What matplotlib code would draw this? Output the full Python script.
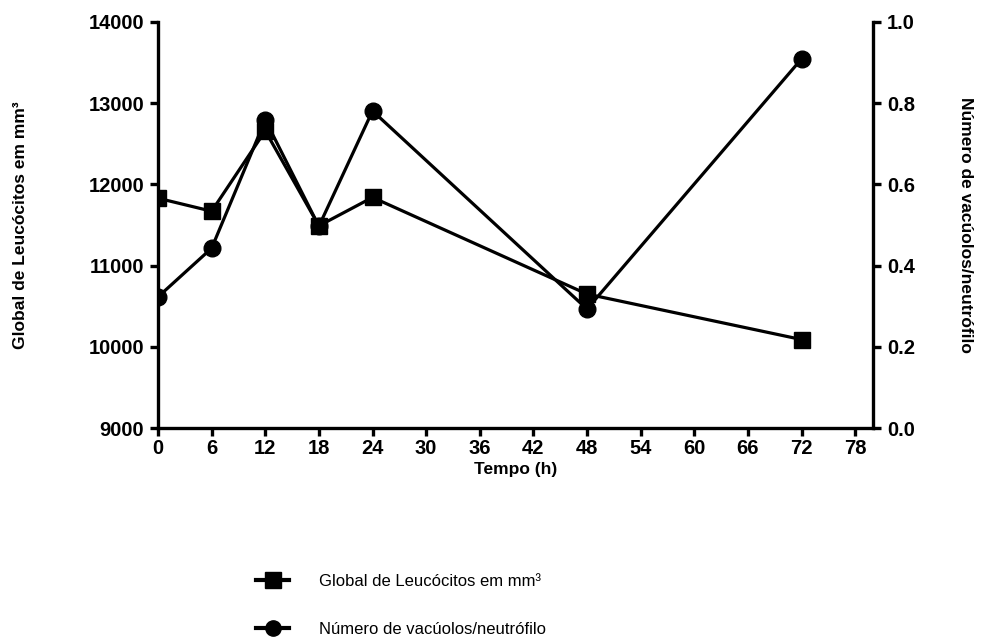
import matplotlib.pyplot as plt
from matplotlib.lines import Line2D
plt.switch_backend('agg')

plt.rcParams['font.family'] = ['Liberation Sans', 'DejaVu Sans']

tempo = [0, 6, 12, 18, 24, 48, 72]
leucocitos = [11830, 11670, 12660, 11490, 11840, 10650, 10090]
vacuolos = [0.323, 0.443, 0.759, 0.497, 0.781, 0.293, 0.909]

x_ticks = [0, 6, 12, 18, 24, 30, 36, 42, 48, 54, 60, 66, 72, 78]
y_left_ticks = [9000, 10000, 11000, 12000, 13000, 14000]
y_right_ticks = [0.0, 0.2, 0.4, 0.6, 0.8, 1.0]

lbl_left = 'Global de Leucócitos em mm³'
lbl_right = 'Número de vacúolos/neutrófilo'

fig = plt.figure(figsize=(9.84, 6.37), dpi=100)
ax = fig.add_axes([0.1606, 0.328, 0.7266, 0.6375])
ax2 = ax.twinx()

lw = 2.3
ax.plot(tempo, leucocitos, color='black', lw=lw, marker='s', markersize=12, zorder=3)
ax2.plot(tempo, vacuolos, color='black', lw=lw, marker='o', markersize=12, zorder=3)

ax.set_xlim(0, 80)
ax.set_ylim(9000, 14000)
ax2.set_ylim(0, 1.0)
ax.set_xticks(x_ticks)
ax.set_yticks(y_left_ticks)
ax2.set_yticks(y_right_ticks)
ax2.set_yticklabels(['%.1f' % v for v in y_right_ticks])

for a in (ax, ax2):
    a.spines['top'].set_visible(False)
    for s in ('left', 'right', 'bottom'):
        a.spines[s].set_linewidth(2.4)
    a.tick_params(width=2.4, length=6, labelsize=14.5, pad=4)
    for t in a.get_xticklabels() + a.get_yticklabels():
        t.set_fontweight('bold')
ax.tick_params(axis='x', pad=2)
ax.spines['right'].set_visible(False)
ax2.spines['left'].set_visible(False)
ax2.spines['bottom'].set_visible(False)

ax.set_xlabel('Tempo (h)', fontsize=12.5, fontweight='bold')
ax.xaxis.set_label_coords(0.5, -0.083)
ax.set_ylabel(lbl_left, fontsize=12.5, fontweight='bold')
ax.yaxis.set_label_coords(-0.182, 0.5)
ax2.set_ylabel(lbl_right, fontsize=12.5, fontweight='bold', rotation=-90, va='center')
ax2.yaxis.set_label_coords(1.13, 0.5)

handles = [Line2D([], [], color='black', lw=3, marker='s', markersize=11),
           Line2D([], [], color='black', lw=3, marker='o', markersize=11)]
fig.legend(handles, [lbl_left, lbl_right], loc='upper left',
           bbox_to_anchor=(0.245, 0.123), frameon=False, fontsize=12,
           labelspacing=2.0, handlelength=2.0, handletextpad=1.8)

fig.savefig('out.png', dpi=100)
